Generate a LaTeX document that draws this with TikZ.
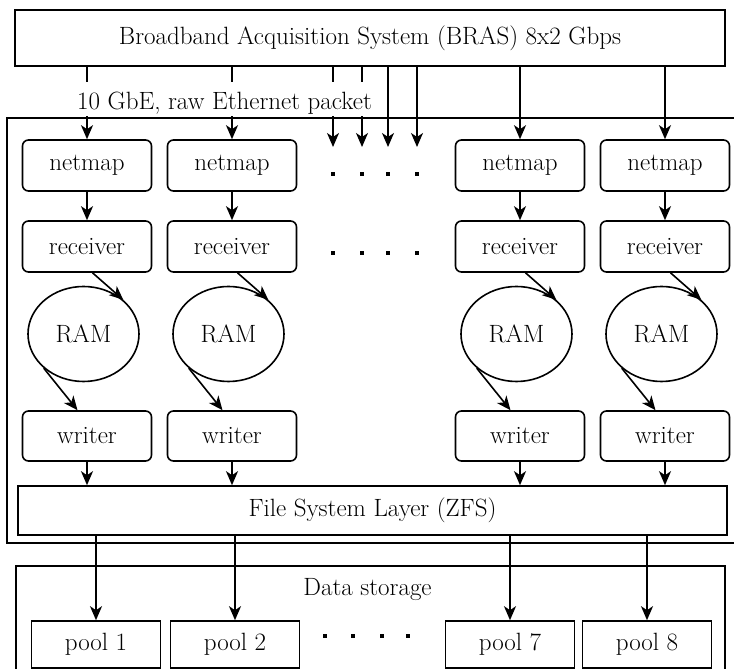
\documentclass[tikz,border=0pt]{standalone}
\usetikzlibrary{arrows.meta}
\usetikzlibrary{shapes.geometric}

\begin{document}
\begin{tikzpicture}[
        x=10pt, y=10pt,
        every node/.style={font=\fontsize{25}{30}\selectfont},
        box/.style={draw, line width=1.6pt, inner sep=0pt},
        stage/.style={box, rounded corners=6pt, minimum width=129pt, minimum height=51pt},
        buffer/.style={box, ellipse, minimum width=111pt, minimum height=95pt},
        pool/.style={box, minimum width=129pt, minimum height=47pt},
        frame/.style={line width=1.6pt},
        flow/.style={line width=1.6pt, -{Stealth[length=14pt, width=12pt, inset=4pt]}},
    ]
    \useasboundingbox (0, 0) rectangle (73.4, 66.9);

    %% traffic source and the common file system layer
    \node[box, minimum width=710pt, minimum height=56pt] (bras) at (37, 63.1)
        {Broadband Acquisition System (BRAS) 8x2 Gbps};
    \node[box, minimum width=709pt, minimum height=49pt] (fs) at (37.25, 15.85)
        {File System Layer (ZFS)};

    %% links of the columns that are left out
    \foreach \x [count=\i] in {33.3, 36.2, 38.8, 41.7}{
        \coordinate (in\i) at (\x, 52.2);
        \draw[flow] (bras.south -| in\i) -- (in\i);
        \fill (\x-.17, 49.33) rectangle ++(.35, .35);
        \fill (\x-.17, 41.43) rectangle ++(.35, .35);
    }

    %% one capture chain per link
    \foreach \i/\x in {1/8.7, 2/23.2, 3/52, 4/66.5}{
        \node[stage] (net\i) at (\x, 50.35) {netmap};
        \node[stage] (rcv\i) at (\x, 42.25) {receiver};
        \node[buffer] (ram\i) at (\x-.35, 33.5) {RAM};
        \node[stage, minimum height=50pt] (wrt\i) at (\x, 23.3) {writer};

        \draw[flow] (bras.south -| net\i.north) -- (net\i.north);
        \draw[flow] (net\i) -- (rcv\i);
        \draw[flow] ([xshift=5.5pt]rcv\i.south) -- (ram\i.north east);
        \draw[flow] (ram\i.south west) -- ([xshift=-9.5pt]wrt\i.north);
        \draw[flow] (wrt\i.south) -- (wrt\i.south |- fs.north);
    }

    \node[anchor=base west, fill=white, inner xsep=1pt, inner ysep=1.5pt,
        text height=26pt, text depth=5pt] (eth) at (7.6, 55.9)
        {10 GbE, raw Ethernet packet};

    \draw[frame] (74, 55.1) -- (0.7, 55.1) -- (0.7, 12.6) -- (74, 12.6);

    %% storage pools
    \draw[frame] (1.6, -1) |- (72.5, 10.3) -- (72.5, -1);
    \node (store) at (36.75, 7.9) {Data storage};

    \foreach \i/\x/\n in {1/9.6/1, 2/23.5/2, 3/51/7, 4/64.7/8}{
        \node[pool] (pool\i) at (\x, 2.45) {pool \n};
        \draw[flow] (fs.south -| pool\i.north) -- (pool\i.north);
    }
    \foreach \x in {32.5, 35.3, 38.2, 40.8}
        \fill (\x-.17, 3.13) rectangle ++(.35, .35);
\end{tikzpicture}
\end{document}
